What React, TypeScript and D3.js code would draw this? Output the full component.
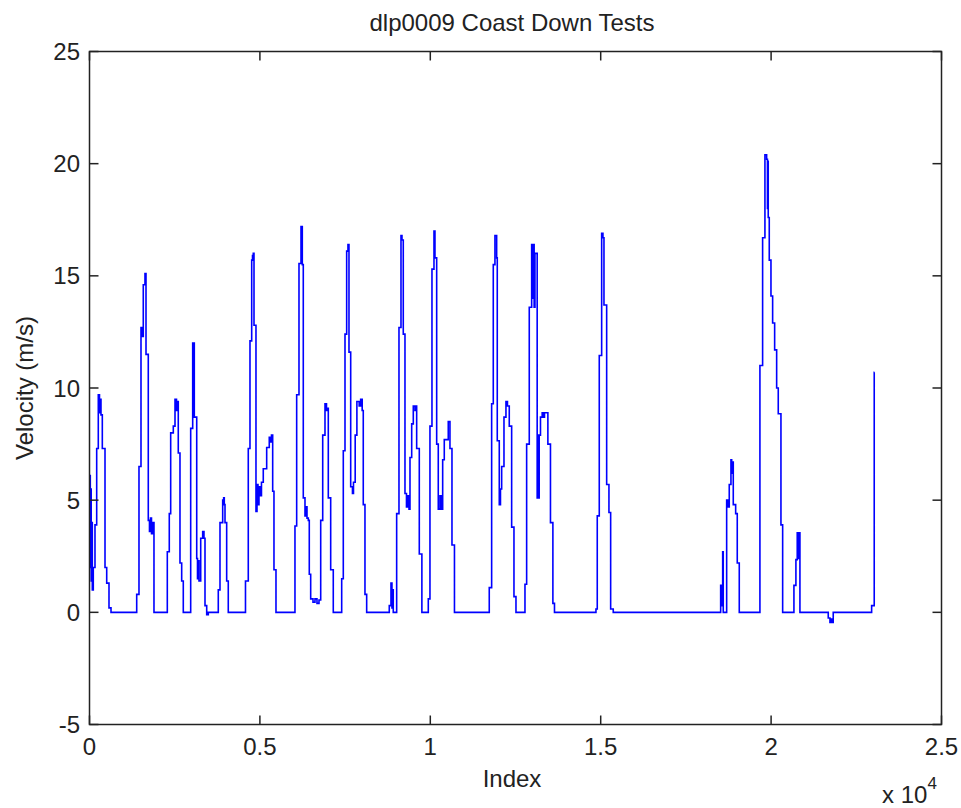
import React from "react";
import * as d3 from "d3";

const TITLE = "dlp0009 Coast Down Tests";
const X_LABEL = "Index";
const Y_LABEL = "Velocity (m/s)";
const xTicks = [0, 5000, 10000, 15000, 20000, 25000];
const xTickLabels = ["0", "0.5", "1", "1.5", "2", "2.5"];
const yTicks = [-5, 0, 5, 10, 15, 20, 25];

// breakpoints of the velocity trace (sample index, velocity m/s), step-after
const sampleIndex = [
  0, 23, 35, 50, 65, 82, 111, 161, 211, 258, 293, 317, 337, 376, 455, 505, 572, 631,
  1385, 1452, 1511, 1540, 1578, 1628, 1658, 1725, 1760, 1790, 1819, 1848, 1892,
  2283, 2341, 2382, 2459, 2509, 2553, 2576, 2605, 2655, 2705, 2752,
  2969, 3028, 3075, 3146, 3169, 3193, 3213, 3263, 3321, 3359, 3389, 3439, 3486,
  3779, 3829, 3908, 3937, 3955, 3976, 4025, 4072,
  4577, 4659, 4709, 4759, 4783, 4806, 4827, 4885, 4915, 4944, 4973, 5011, 5046, 5099, 5199, 5275, 5311, 5340, 5375, 5413, 5472,
  6029, 6079, 6147, 6206, 6244, 6273, 6323, 6353, 6382, 6420, 6449, 6490, 6558, 6616, 6675, 6734, 6784, 6843, 6910, 6954, 6978, 7007, 7077, 7153,
  7400, 7447, 7497, 7546, 7584, 7614, 7664, 7716, 7746, 7796, 7846, 7913, 7957, 8001, 8033, 8083, 8133,
  8796, 8846, 8875, 8890, 8913,
  9013, 9081, 9140, 9169, 9207, 9257, 9301, 9345, 9375, 9404, 9454, 9501, 9551, 9580, 9600, 9677, 9753,
  9941, 9990, 10049, 10108, 10137, 10187, 10234, 10284, 10328, 10363, 10410, 10527, 10577, 10636, 10709,
  11730, 11800, 11848, 11897, 11947, 11965, 12024, 12059, 12094, 12162, 12220, 12264, 12317, 12387, 12455, 12514,
  12778, 12827, 12904, 12974, 12997, 13021, 13047, 13071, 13136, 13157, 13175, 13195, 13233, 13283, 13327, 13350, 13450, 13526, 13597, 13644,
  14861, 14899, 14958, 15028, 15066, 15096, 15175, 15242, 15292, 15368,
  18520, 18544, 18567, 18579, 18596, 18696, 18743, 18772, 18822, 18843, 18860, 18890, 18960, 19007, 19066,
  19672, 19751, 19819, 19869, 19893, 19907, 19916, 19946, 19996, 20045, 20104, 20163, 20210, 20289, 20339,
  20670, 20728, 20767, 20787, 20805, 20846,
  21677, 21727, 21756, 21776, 21823,
  22950, 23026, 23032,
];
const velocity = [
  6.1, 2.0, 5.5, 1.4, 4.0, 1.0, 2.0, 3.9, 7.3, 9.7, 8.9, 9.5, 8.8, 7.3, 2.0, 1.3, 0.2, 0,
  0.8, 6.5, 12.7, 12.3, 14.6, 15.1, 11.5, 4.1, 3.6, 4.2, 3.5, 4.0, 0,
  2.7, 4.4, 8.0, 8.3, 9.5, 9.0, 9.4, 7.1, 2.2, 1.4, 0,
  8.2, 12.0, 8.7, 2.4, 1.5, 2.3, 1.4, 3.3, 3.6, 3.3, 0.3, -0.1, 0,
  1.0, 4.0, 5.0, 5.1, 4.8, 4.0, 1.4, 0,
  1.4, 7.3, 12.1, 15.7, 15.9, 16.0, 12.8, 4.5, 5.7, 4.8, 5.6, 5.2, 5.8, 6.4, 7.35, 7.8, 7.6, 7.9, 5.4, 1.9, 0,
  3.85, 9.7, 15.55, 17.2, 15.5, 5.1, 4.3, 4.7, 4.2, 4.1, 1.7, 0.6, 0.45, 0.6, 0.4, 0.55, 4.1, 7.9, 9.3, 9.0, 9.1, 5.1, 1.9, 0,
  1.5, 7.2, 12.4, 16.1, 16.4, 11.6, 5.6, 5.3, 5.8, 7.9, 9.4, 9.2, 9.5, 9.0, 4.8, 0.8, 0,
  0.3, 1.3, 0.2, 1.0, 0,
  4.4, 12.7, 16.8, 16.6, 12.4, 5.3, 4.7, 5.2, 4.6, 6.9, 8.4, 9.2, 9.0, 9.2, 7.3, 2.6, 0,
  0.6, 8.3, 15.3, 17.0, 15.8, 7.5, 4.6, 5.2, 4.6, 6.8, 7.7, 8.5, 7.3, 3.0, 0,
  1.1, 9.3, 15.5, 16.8, 15.8, 7.65, 4.8, 5.5, 6.5, 8.7, 9.4, 9.2, 8.3, 3.8, 0.7, 0,
  1.25, 7.5, 13.6, 16.4, 14.0, 16.4, 13.6, 16.0, 5.1, 7.9, 5.1, 7.9, 8.7, 8.9, 8.7, 8.9, 7.5, 4.0, 0.4, 0,
  0.15, 4.3, 11.45, 16.9, 16.7, 13.7, 5.7, 4.45, 0.15, 0,
  1.2, 0.3, 1.2, 2.7, 0, 5.0, 4.7, 5.7, 6.8, 6.2, 6.7, 4.8, 4.4, 2.2, 0,
  11.0, 16.7, 20.4, 20.2, 18.0, 20.1, 17.6, 15.7, 14.1, 12.9, 11.7, 10.0, 8.85, 3.9, 0,
  1.2, 2.35, 3.55, 2.4, 3.55, 0,
  -0.25, -0.45, -0.3, -0.45, 0,
  0.3, 10.7, 10.7,
];

const W = 961;
const H = 808;
const left = 89.5;
const right = 941.5;
const top = 51.5;
const bottom = 724.5;
const FONT = "'Liberation Sans', Arial, sans-serif";

export default function App() {
  const x = d3.scaleLinear().domain([0, 25000]).range([left, right]);
  const y = d3.scaleLinear().domain([-5, 25]).range([bottom, top]);
  const pts: [number, number][] = sampleIndex.map((d, i) => [d, velocity[i]]);
  const line = d3
    .line<[number, number]>()
    .x((d) => x(d[0]))
    .y((d) => y(d[1]))
    .curve(d3.curveStepAfter);
  const tick = 9;
  return (
    <svg
      width={W}
      height={H}
      style={{ position: "absolute", left: 0, top: 0, background: "#fff" }}
      fontFamily={FONT}
    >
      <rect x={0} y={0} width={W} height={H} fill="#fff" />
      <path d={line(pts) || ""} fill="none" stroke="#0000ff" strokeWidth={1.6} />
      <rect
        x={left}
        y={top}
        width={right - left}
        height={bottom - top}
        fill="none"
        stroke="#222"
        strokeWidth={1.5}
      />
      {xTicks.map((t, i) => (
        <g key={"x" + t}>
          <line x1={x(t)} x2={x(t)} y1={bottom} y2={bottom - tick} stroke="#222" strokeWidth={1.5} />
          <line x1={x(t)} x2={x(t)} y1={top} y2={top + tick} stroke="#222" strokeWidth={1.5} />
          <text x={x(t)} y={755} fontSize={24} textAnchor="middle" fill="#222">
            {xTickLabels[i]}
          </text>
        </g>
      ))}
      {yTicks.map((t) => (
        <g key={"y" + t}>
          <line x1={left} x2={left + tick} y1={y(t)} y2={y(t)} stroke="#222" strokeWidth={1.5} />
          <line x1={right} x2={right - tick} y1={y(t)} y2={y(t)} stroke="#222" strokeWidth={1.5} />
          <text x={80} y={y(t) + 8.5} fontSize={24} textAnchor="end" fill="#222">
            {t}
          </text>
        </g>
      ))}
      <text x={512} y={31} fontSize={24} textAnchor="middle" fill="#222">
        {TITLE}
      </text>
      <text x={512} y={787} fontSize={24} textAnchor="middle" fill="#222">
        {X_LABEL}
      </text>
      <text
        transform={`translate(33, ${(top + bottom) / 2}) rotate(-90)`}
        fontSize={24}
        textAnchor="middle"
        fill="#222"
      >
        {Y_LABEL}
      </text>
      <text x={882} y={803} fontSize={24} fill="#222">
        x 10
        <tspan dy={-14} fontSize={17}>
          4
        </tspan>
      </text>
    </svg>
  );
}
